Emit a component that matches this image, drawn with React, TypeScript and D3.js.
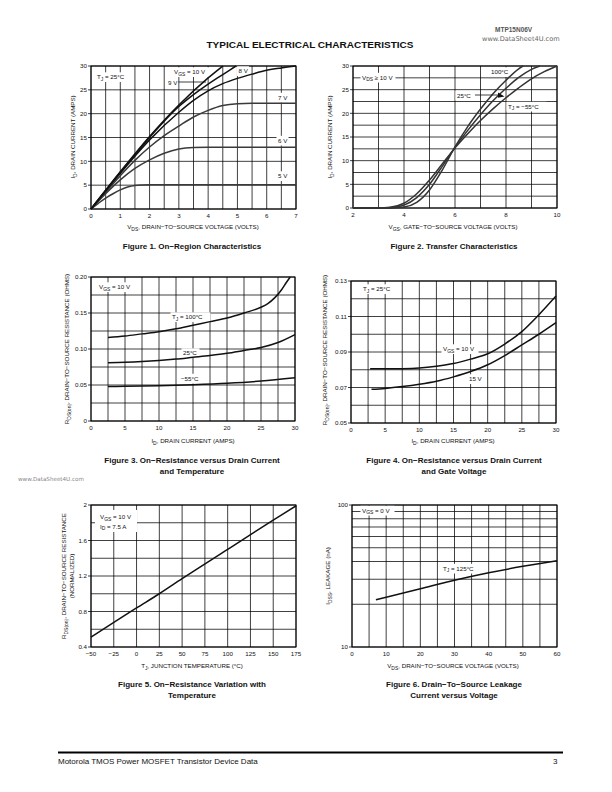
import React from "react";
import * as d3 from "d3";

type Pt = [number, number];

// ---------------- Figure 1: On-region characteristics (ID vs VDS) ----------------
const fig1XTicks = [0, 1, 2, 3, 4, 5, 6, 7];
const fig1YTicks = [0, 5, 10, 15, 20, 25, 30];
const fig1Vgs10: Pt[] = [[0, 0], [1, 7.8], [2, 15.2], [3, 21.8], [4, 27.5], [4.5, 30]];
const fig1Vgs9: Pt[] = [[0, 0], [1, 7.7], [2, 15.0], [3, 21.5], [3.5, 24.0], [4, 26.2], [4.5, 28.2], [4.95, 30]];
const fig1Vgs8: Pt[] = [[0, 0], [1, 7.5], [2, 14.5], [3, 20.3], [3.5, 22.8], [4, 24.8], [4.5, 26.3], [5, 27.4], [5.5, 28.3], [6, 29.1], [6.5, 29.6], [7, 30]];
const fig1Vgs7: Pt[] = [[0, 0], [0.5, 3.5], [1, 7.0], [1.5, 10.2], [2, 13.0], [2.5, 15.4], [3, 17.4], [3.5, 19.3], [4, 20.7], [4.5, 21.7], [5, 22.1], [5.5, 22.2], [7, 22.2]];
const fig1Vgs6: Pt[] = [[0, 0], [0.5, 3.2], [1, 6.1], [1.5, 8.5], [2, 10.3], [2.5, 11.7], [3, 12.6], [3.5, 12.9], [4, 12.95], [7, 12.95]];
const fig1Vgs5: Pt[] = [[0, 0], [0.25, 1.2], [0.5, 2.3], [0.75, 3.2], [1, 4.0], [1.25, 4.6], [1.5, 4.95], [1.75, 5.05], [2, 5.1], [7, 5.1]];

// ---------------- Figure 2: Transfer characteristics (ID vs VGS) ----------------
const fig2XTicks = [2, 4, 6, 8, 10];
const fig2YTicks = [0, 5, 10, 15, 20, 25, 30];
const fig2Tj100: Pt[] = [[2, 0], [3, 0], [3.5, 0.02], [4, 0.2], [4.5, 1.2], [5, 3.8], [5.5, 8.0], [6, 12.9], [6.5, 17.2], [7, 20.9], [7.5, 24.2], [8, 27], [8.5, 29.4], [8.67, 30]];
const fig2Tj25: Pt[] = [[2, 0], [3, 0], [3.5, 0.08], [4, 0.6], [4.5, 2.2], [5, 5.0], [5.5, 8.8], [6, 12.8], [6.5, 16.4], [7, 19.7], [7.5, 22.7], [8, 25.3], [8.5, 27.6], [9, 29.3], [9.33, 30]];
const fig2TjM55: Pt[] = [[2, 0], [3, 0], [3.4, 0.1], [4, 1.0], [4.5, 3.0], [5, 5.9], [5.5, 9.3], [6, 12.7], [6.5, 15.7], [7, 18.5], [7.5, 21.0], [8, 23.3], [8.5, 25.4], [9, 27.3], [9.5, 28.8], [10, 30]];

// ---------------- Figure 3: RDS(on) vs ID and temperature ----------------
const fig3XTicks = [0, 5, 10, 15, 20, 25, 30];
const fig3YTicks = [0, 0.05, 0.1, 0.15, 0.2];
const fig3Tj100: Pt[] = [[2.5, 0.116], [5, 0.118], [7.5, 0.121], [10, 0.124], [12.5, 0.128], [15, 0.133], [17.5, 0.138], [20, 0.143], [22.5, 0.15], [25, 0.158], [26, 0.163], [27, 0.171], [28, 0.182], [28.7, 0.192], [29.3, 0.2]];
const fig3Tj25: Pt[] = [[2.5, 0.081], [5, 0.0815], [7.5, 0.0825], [10, 0.084], [12.5, 0.086], [15, 0.0885], [17.5, 0.091], [20, 0.094], [22.5, 0.098], [25, 0.102], [27.5, 0.109], [30, 0.12]];
const fig3TjM55: Pt[] = [[2.5, 0.048], [5, 0.0482], [10, 0.049], [15, 0.0505], [20, 0.0525], [25, 0.0555], [30, 0.06]];

// ---------------- Figure 4: RDS(on) vs ID and gate voltage ----------------
const fig4XTicks = [0, 5, 10, 15, 20, 25, 30];
const fig4YTicks = [0.05, 0.07, 0.09, 0.11, 0.13];
const fig4Vgs10: Pt[] = [[2.8, 0.0805], [5, 0.0805], [7.5, 0.0806], [10, 0.081], [12.5, 0.082], [15, 0.0835], [17.5, 0.086], [20, 0.089], [22.5, 0.0945], [25, 0.1015], [27.5, 0.111], [30, 0.1215]];
const fig4Vgs15: Pt[] = [[3, 0.069], [5, 0.0695], [7.5, 0.0705], [10, 0.0718], [12.5, 0.0735], [15, 0.076], [17.5, 0.079], [20, 0.0828], [22.5, 0.088], [25, 0.094], [27.5, 0.1], [30, 0.1065]];

// ---------------- Figure 5: RDS(on) normalized vs temperature ----------------
const fig5XTicks = [-50, -25, 0, 25, 50, 75, 100, 125, 150, 175];
const fig5YTicks = [0.4, 0.8, 1.2, 1.6, 2];
const fig5Rds: Pt[] = [[-50, 0.51], [0, 0.84], [25, 1.0], [50, 1.17], [100, 1.5], [150, 1.83], [175, 1.99]];

// ---------------- Figure 6: IDSS leakage vs VDS ----------------
const fig6XTicks = [0, 10, 20, 30, 40, 50, 60];
const fig6YTicks = [10, 100];
const fig6Tj125: Pt[] = [[7, 21.5], [10, 22.4], [20, 25.7], [30, 29.5], [40, 33.3], [50, 37], [60, 40.5]];

const FONT = "'Liberation Sans', Arial, Helvetica, sans-serif";

type Part = string | { sub: string };

function Rich({ parts, size }: { parts: Part[]; size: number }) {
  const out: React.ReactNode[] = [];
  let shifted = false;
  parts.forEach((p, i) => {
    if (typeof p === "string") {
      out.push(
        <tspan key={i} dy={shifted ? -size * 0.3 : 0} fontSize={size}>
          {p}
        </tspan>
      );
      shifted = false;
    } else {
      out.push(
        <tspan key={i} dy={size * 0.3} fontSize={size * 0.8}>
          {p.sub}
        </tspan>
      );
      shifted = true;
    }
  });
  return <>{out}</>;
}

function Tag({ x, y, parts, w, size = 6.2 }: { x: number; y: number; parts: Part[]; w: number; size?: number }) {
  return (
    <g>
      <rect x={x - 1.5} y={y - size - 0.5} width={w} height={size + 3.5} fill="white" />
      <text x={x} y={y} fontFamily={FONT} fill="#111">
        <Rich parts={parts} size={size} />
      </text>
    </g>
  );
}

function range(a: number, b: number, step: number) {
  const out: number[] = [];
  for (let v = a; v <= b + step * 1e-6; v += step) out.push(+v.toFixed(6));
  return out;
}

interface PanelProps {
  x: any;
  y: any;
  xGrid: number[];
  yGrid: number[];
  xTicks: number[];
  yTicks: number[];
  xFmt?: (v: number) => string;
  yFmt?: (v: number) => string;
  series: { data: Pt[]; color?: string; width?: number }[];
  labels?: React.ReactNode;
  extra?: React.ReactNode;
}

function Panel({ x, y, xGrid, yGrid, xTicks, yTicks, xFmt, yFmt, series, labels, extra }: PanelProps) {
  const [x0, x1] = x.range();
  const [y1, y0] = y.range();
  const line = d3
    .line<Pt>()
    .x((d) => x(d[0]))
    .y((d) => y(d[1]))
    .curve(d3.curveMonotoneX);
  const fx = xFmt || ((v: number) => String(v));
  const fy = yFmt || ((v: number) => String(v));
  return (
    <g>
      {xGrid.map((v, i) => (
        <line key={"gx" + i} x1={x(v)} x2={x(v)} y1={y0} y2={y1} stroke="#000" strokeWidth={0.75} />
      ))}
      {yGrid.map((v, i) => (
        <line key={"gy" + i} x1={x0} x2={x1} y1={y(v)} y2={y(v)} stroke="#000" strokeWidth={0.75} />
      ))}
      <rect x={x0} y={y0} width={x1 - x0} height={y1 - y0} fill="none" stroke="#000" strokeWidth={1} />
      {yTicks.map((v, i) => (
        <g key={"ty" + i}>
          <line x1={x0 - 3} x2={x0} y1={y(v)} y2={y(v)} stroke="#000" strokeWidth={0.75} />
          <text x={x0 - 4} y={y(v) + 2.2} fontSize={6.2} fontFamily={FONT} textAnchor="end" fill="#111">
            {fy(v)}
          </text>
        </g>
      ))}
      {xTicks.map((v, i) => (
        <text key={"tx" + i} x={x(v)} y={y1 + 8.5} fontSize={6.2} fontFamily={FONT} textAnchor="middle" fill="#111">
          {fx(v)}
        </text>
      ))}
      {labels}
      {series.map((s, i) => (
        <path key={"s" + i} d={line(s.data) || ""} fill="none" stroke={s.color || "#111"} strokeWidth={s.width || 1.5} strokeLinejoin="round" />
      ))}
      {extra}
    </g>
  );
}

function AxisTitleX({ cx, y, parts }: { cx: number; y: number; parts: Part[] }) {
  return (
    <text x={cx} y={y} textAnchor="middle" fontFamily={FONT} fill="#111">
      <Rich parts={parts} size={6.2} />
    </text>
  );
}

function AxisTitleY({ x, cy, parts }: { x: number; cy: number; parts: Part[] }) {
  return (
    <text transform={`translate(${x},${cy}) rotate(-90)`} textAnchor="middle" fontFamily={FONT} fill="#111">
      <Rich parts={parts} size={6.2} />
    </text>
  );
}

function Caption({ cx, y, lines }: { cx: number; y: number; lines: string[] }) {
  return (
    <g>
      {lines.map((l, i) => (
        <text key={i} x={cx} y={y + i * 11} textAnchor="middle" fontFamily={FONT} fontWeight="bold" fontSize={8} fill="#111">
          {l}
        </text>
      ))}
    </g>
  );
}

const minus = (v: number) => (v < 0 ? "\u2212" + Math.abs(v) : String(v));

export default function App() {
  // scales
  const x1s = d3.scaleLinear().domain([0, 7]).range([91, 296]);
  const y1s = d3.scaleLinear().domain([0, 30]).range([209, 66]);
  const x2s = d3.scaleLinear().domain([2, 10]).range([353, 557]);
  const y2s = d3.scaleLinear().domain([0, 30]).range([208, 66]);
  const x3s = d3.scaleLinear().domain([0, 30]).range([91, 295]);
  const y3s = d3.scaleLinear().domain([0, 0.2]).range([421, 277]);
  const x4s = d3.scaleLinear().domain([0, 30]).range([351, 556]);
  const y4s = d3.scaleLinear().domain([0.05, 0.13]).range([423, 281]);
  const x5s = d3.scaleLinear().domain([-50, 175]).range([91, 296]);
  const y5s = d3.scaleLinear().domain([0.4, 2]).range([647, 505]);
  const x6s = d3.scaleLinear().domain([0, 60]).range([352, 557]);
  const y6s = d3.scaleLog().domain([10, 100]).range([647, 505]);

  const f2 = (v: number) => (v === 0 ? "0" : v.toFixed(2));

  return (
    <svg
      width={612}
      height={792}
      viewBox="0 0 612 792"
      style={{ position: "absolute", left: 0, top: 0, background: "white", display: "block" }}
    >
      <rect x={0} y={0} width={612} height={792} fill="white" />
      {/* header */}
      <text x={495} y={31.5} fontFamily={FONT} fontWeight="bold" fontSize={6.5} fill="#555">
        MTP15N06V
      </text>
      <text x={482} y={40.5} fontFamily={"'DejaVu Sans', sans-serif"} fontSize={6.6} fill="#666">
        www.DataSheet4U.com
      </text>
      <text x={310} y={48} textAnchor="middle" fontFamily={FONT} fontWeight="bold" fontSize={9.6} fill="#111" textLength={207} lengthAdjust="spacingAndGlyphs">
        TYPICAL ELECTRICAL CHARACTERISTICS
      </text>

      {/* Figure 1 */}
      <Panel
        x={x1s}
        y={y1s}
        xGrid={range(0, 7, 0.5)}
        yGrid={range(0, 30, 5)}
        xTicks={fig1XTicks}
        yTicks={fig1YTicks}
        series={[
          { data: fig1Vgs5, color: "#3a3a3a" },
          { data: fig1Vgs6, color: "#3a3a3a" },
          { data: fig1Vgs7, color: "#3a3a3a" },
          { data: fig1Vgs8 },
          { data: fig1Vgs9 },
          { data: fig1Vgs10 },
        ]}
        labels={
          <g>
            <Tag x={97} y={79} w={38} parts={["T", { sub: "J" }, " = 25\u00b0C"]} />
            <Tag x={174} y={74} w={37} parts={["V", { sub: "GS" }, " = 10 V"]} />
            <Tag x={168} y={84.5} w={11} parts={["9 V"]} />
            <Tag x={238.5} y={73} w={12} parts={["8 V"]} />
            <Tag x={278} y={99.5} w={12} parts={["7 V"]} />
            <Tag x={278} y={142.5} w={12} parts={["6 V"]} />
            <Tag x={278} y={178} w={12} parts={["5 V"]} />
          </g>
        }
        extra={<line x1={178.5} x2={206} y1={82} y2={82} stroke="#111" strokeWidth={0.8} />}
      />
      <AxisTitleX cx={193} y={229} parts={["V", { sub: "DS" }, ", DRAIN\u2212TO\u2212SOURCE VOLTAGE (VOLTS)"]} />
      <AxisTitleY x={75} cy={137} parts={["I", { sub: "D" }, ", DRAIN CURRENT (AMPS)"]} />
      <Caption cx={192} y={249} lines={["Figure 1. On\u2212Region Characteristics"]} />

      {/* Figure 2 */}
      <Panel
        x={x2s}
        y={y2s}
        xGrid={range(2, 10, 1)}
        yGrid={range(0, 30, 2.5)}
        xTicks={fig2XTicks}
        yTicks={fig2YTicks}
        series={[{ data: fig2Tj100, color: "#333" }, { data: fig2Tj25, color: "#333" }, { data: fig2TjM55, color: "#333" }]}
        labels={
          <g>
            <Tag x={362} y={79.5} w={35} parts={["V", { sub: "DS" }, " \u2265 10 V"]} />
            <Tag x={491} y={74} w={21} parts={["100\u00b0C"]} />
            <Tag x={457} y={97.5} w={18} parts={["25\u00b0C"]} />
            <Tag x={508} y={108.5} w={40} parts={["T", { sub: "J" }, " = \u221255\u00b0C"]} />
          </g>
        }
        extra={
          <g>
            <line x1={475} x2={499} y1={95} y2={95} stroke="#111" strokeWidth={0.8} />
            <polygon points="498,92.5 504.5,96.5 498,97.8" fill="#111" />
          </g>
        }
      />
      <AxisTitleX cx={453} y={229} parts={["V", { sub: "GS" }, ", GATE\u2212TO\u2212SOURCE VOLTAGE (VOLTS)"]} />
      <AxisTitleY x={332} cy={137} parts={["I", { sub: "D" }, ", DRAIN CURRENT (AMPS)"]} />
      <Caption cx={454} y={249} lines={["Figure 2. Transfer Characteristics"]} />

      {/* Figure 3 */}
      <Panel
        x={x3s}
        y={y3s}
        xGrid={range(0, 30, 2.5)}
        yGrid={range(0, 0.2, 0.025)}
        xTicks={fig3XTicks}
        yTicks={fig3YTicks}
        yFmt={f2}
        series={[{ data: fig3Tj100 }, { data: fig3Tj25 }, { data: fig3TjM55 }]}
        labels={
          <g>
            <Tag x={99} y={289} w={37} parts={["V", { sub: "GS" }, " = 10 V"]} />
            <Tag x={172} y={319} w={40} parts={["T", { sub: "J" }, " = 100\u00b0C"]} />
            <Tag x={183} y={355} w={18} parts={["25\u00b0C"]} />
            <Tag x={181} y={380.5} w={23} parts={["\u221255\u00b0C"]} />
          </g>
        }
      />
      <AxisTitleX cx={193} y={443} parts={["I", { sub: "D" }, ", DRAIN CURRENT (AMPS)"]} />
      <AxisTitleY x={69} cy={349} parts={["R", { sub: "DS(on)" }, ", DRAIN\u2212TO\u2212SOURCE RESISTANCE (OHMS)"]} />
      <Caption cx={192} y={463} lines={["Figure 3. On\u2212Resistance versus Drain Current", "and Temperature"]} />

      {/* Figure 4 */}
      <Panel
        x={x4s}
        y={y4s}
        xGrid={range(0, 30, 2.5)}
        yGrid={range(0.05, 0.13, 0.01)}
        xTicks={fig4XTicks}
        yTicks={fig4YTicks}
        yFmt={f2}
        series={[{ data: fig4Vgs10 }, { data: fig4Vgs15 }]}
        labels={
          <g>
            <Tag x={363} y={291} w={33} parts={["T", { sub: "J" }, " = 25\u00b0C"]} />
            <Tag x={443} y={351} w={37} parts={["V", { sub: "GS" }, " = 10 V"]} />
            <Tag x={469} y={381} w={16} parts={["15 V"]} />
          </g>
        }
      />
      <AxisTitleX cx={453} y={443} parts={["I", { sub: "D" }, ", DRAIN CURRENT (AMPS)"]} />
      <AxisTitleY x={327} cy={350} parts={["R", { sub: "DS(on)" }, ", DRAIN\u2212TO\u2212SOURCE RESISTANCE (OHMS)"]} />
      <Caption cx={454} y={463} lines={["Figure 4. On\u2212Resistance versus Drain Current", "and Gate Voltage"]} />

      {/* watermark */}
      <text x={18} y={481} fontFamily={"'DejaVu Sans', sans-serif"} fontSize={5.6} fill="#888">
        www.DataSheet4U.com
      </text>

      {/* Figure 5 */}
      <Panel
        x={x5s}
        y={y5s}
        xGrid={range(-50, 175, 25)}
        yGrid={range(0.4, 2, 0.2)}
        xTicks={fig5XTicks}
        yTicks={fig5YTicks}
        xFmt={minus}
        series={[{ data: fig5Rds }]}
        labels={
          <g>
            <rect x={95} y={510} width={42} height={22} fill="white" />
            <text x={100} y={519} fontFamily={FONT} fill="#111">
              <Rich parts={["V", { sub: "GS" }, " = 10 V"]} size={6.2} />
            </text>
            <text x={100} y={528.5} fontFamily={FONT} fill="#111">
              <Rich parts={["I", { sub: "D" }, " = 7.5 A"]} size={6.2} />
            </text>
          </g>
        }
      />
      <AxisTitleX cx={192} y={668} parts={["T", { sub: "J" }, ", JUNCTION TEMPERATURE (\u00b0C)"]} />
      <AxisTitleY x={66} cy={576} parts={["R", { sub: "DS(on)" }, ", DRAIN\u2212TO\u2212SOURCE RESISTANCE"]} />
      <AxisTitleY x={74} cy={576} parts={["(NORMALIZED)"]} />
      <Caption cx={192} y={687} lines={["Figure 5. On\u2212Resistance Variation with", "Temperature"]} />

      {/* Figure 6 */}
      <Panel
        x={x6s}
        y={y6s}
        xGrid={range(0, 60, 5)}
        yGrid={[10, 20, 30, 40, 50, 60, 70, 80, 90, 100]}
        xTicks={fig6XTicks}
        yTicks={fig6YTicks}
        series={[{ data: fig6Tj125 }]}
        labels={
          <g>
            <Tag x={362} y={512.5} w={34} parts={["V", { sub: "GS" }, " = 0 V"]} />
            <Tag x={443} y={570.5} w={39} parts={["T", { sub: "J" }, " = 125\u00b0C"]} />
          </g>
        }
      />
      <AxisTitleX cx={453} y={668} parts={["V", { sub: "DS" }, ", DRAIN\u2212TO\u2212SOURCE VOLTAGE (VOLTS)"]} />
      <AxisTitleY x={330} cy={576} parts={["I", { sub: "DSS" }, ", LEAKAGE (nA)"]} />
      <Caption cx={454} y={687} lines={["Figure 6. Drain\u2212To\u2212Source Leakage", "Current versus Voltage"]} />

      {/* footer */}
      <line x1={58} x2={563} y1={752.5} y2={752.5} stroke="#000" strokeWidth={2} />
      <text x={58} y={764} fontFamily={FONT} fontSize={8} fill="#111">
        Motorola TMOS Power MOSFET Transistor Device Data
      </text>
      <text x={553} y={764} fontFamily={FONT} fontSize={8} fill="#111">
        3
      </text>
    </svg>
  );
}
